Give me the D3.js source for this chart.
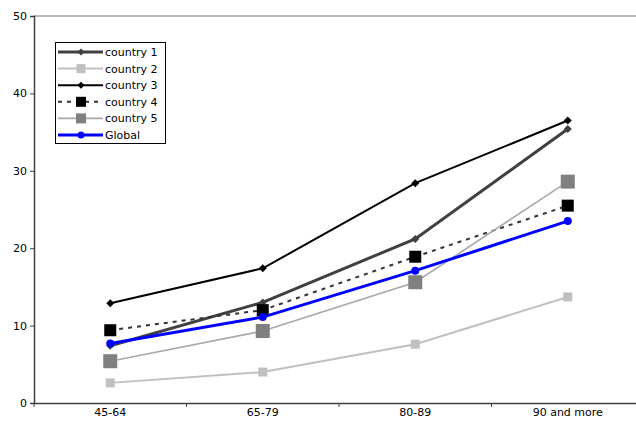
<!DOCTYPE html>
<html><head><meta charset="utf-8">
<script src="https://cdn.jsdelivr.net/npm/d3@7"></script>
<style>body{margin:0;background:#fff}svg{display:block}text{font-family:"DejaVu Sans",Verdana,sans-serif}</style>
</head><body><svg id="c" width="636" height="421"></svg>
<script>
const categories = ["45-64","65-79","80-89","90 and more"];
const country1 = [7.4, 13.0, 21.2, 35.4];
const country2 = [2.6, 4.0, 7.6, 13.7];
const country3 = [12.9, 17.4, 28.4, 36.5];
const country4 = [9.4, 12.0, 18.9, 25.5];
const country5 = [5.4, 9.3, 15.6, 28.6];
const globalVals = [7.7, 11.1, 17.1, 23.5];
const yTicks = [0,10,20,30,40,50];
const seriesNames = ["country 1","country 2","country 3","country 4","country 5","Global"];

const series = [
  {name:seriesNames[0], values:country1, color:"#404040", width:3, dash:null, marker:"diamond", msize:4, mcolor:"#404040"},
  {name:seriesNames[1], values:country2, color:"#c0c0c0", width:2, dash:null, marker:"square", msize:9, mcolor:"#c0c0c0"},
  {name:seriesNames[2], values:country3, color:"#000000", width:2, dash:null, marker:"diamond", msize:4, mcolor:"#000"},
  {name:seriesNames[3], values:country4, color:"#333333", width:2, dash:"4,5", marker:"square", msize:12, mcolor:"#000"},
  {name:seriesNames[4], values:country5, color:"#a8a8a8", width:1.6, dash:null, marker:"square", msize:14, mcolor:"#808080"},
  {name:seriesNames[5], values:globalVals, color:"#0000ff", width:3, dash:null, marker:"circle", msize:4, mcolor:"#0000ff"}
];

const svg = d3.select("#c");
const L = 34, R = 644, T = 16, B = 403;
const x = d3.scaleBand().domain(categories).range([L, R]);
const y = d3.scaleLinear().domain([0,50]).range([B, T]);

svg.append("line").attr("x1",L).attr("x2",R).attr("y1",y(50)).attr("y2",y(50))
  .attr("stroke","#a0a0a0").attr("stroke-width",1.5);

const yAxis = svg.append("g").attr("transform",`translate(${L},0)`)
  .call(d3.axisLeft(y).tickValues(yTicks).tickSize(4).tickPadding(3));
yAxis.select(".domain").attr("stroke","#404040").attr("stroke-width",1.5);
yAxis.selectAll("line").attr("stroke","#404040");
yAxis.selectAll("text").attr("font-size",11).attr("fill","#000").style("font-family","DejaVu Sans, Verdana, sans-serif");

const xAxis = svg.append("g").attr("transform",`translate(0,${B})`)
  .call(d3.axisBottom(x).tickSize(0).tickPadding(5));
xAxis.select(".domain").attr("stroke","#404040").attr("stroke-width",1.5);
xAxis.selectAll("text").attr("font-size",11).attr("fill","#000").style("font-family","DejaVu Sans, Verdana, sans-serif");
const bounds = categories.map(c => x(c)).concat([R]);
svg.append("g").selectAll("line").data(bounds).join("line")
  .attr("x1",d=>d).attr("x2",d=>d).attr("y1",B).attr("y2",B+4)
  .attr("stroke","#404040");

const cx = c => x(c) + x.bandwidth()/2;
const line = d3.line().x((d,i)=>cx(categories[i])).y(d=>y(d));

function drawMarker(g, s, px, py) {
  if (s.marker === "square") {
    g.append("rect").attr("x",px - s.msize/2).attr("y",py - s.msize/2)
      .attr("width",s.msize).attr("height",s.msize).attr("fill",s.mcolor);
  } else if (s.marker === "diamond") {
    const r = s.msize;
    g.append("path").attr("d",`M${px},${py-r}L${px+r},${py}L${px},${py+r}L${px-r},${py}Z`).attr("fill",s.mcolor);
  } else {
    g.append("circle").attr("cx",px).attr("cy",py).attr("r",s.msize).attr("fill",s.mcolor);
  }
}

const plot = svg.append("g");
series.forEach(s => {
  const g = plot.append("g");
  g.append("path").datum(s.values).attr("d",line).attr("fill","none")
    .attr("stroke",s.color).attr("stroke-width",s.width)
    .attr("stroke-dasharray",s.dash);
  s.values.forEach((v,i) => drawMarker(g, s, cx(categories[i]), y(v)));
});

const lg = svg.append("g");
lg.append("rect").attr("x",55.5).attr("y",42.5).attr("width",110).attr("height",101)
  .attr("fill","#fff").attr("stroke","#000").attr("stroke-width",1);
series.forEach((s,i) => {
  const yy = 52 + i*16.6;
  const g = lg.append("g");
  g.append("line").attr("x1",58).attr("x2",103).attr("y1",yy).attr("y2",yy)
    .attr("stroke",s.color).attr("stroke-width",s.width).attr("stroke-dasharray",s.dash);
  const ms = Object.assign({}, s, {msize: s.marker==="square" ? Math.min(s.msize,10) : s.msize-0.5});
  drawMarker(g, ms, 81, yy);
  g.append("text").attr("x",105).attr("y",yy+4).attr("font-size",11).text(s.name);
});
</script></body></html>
